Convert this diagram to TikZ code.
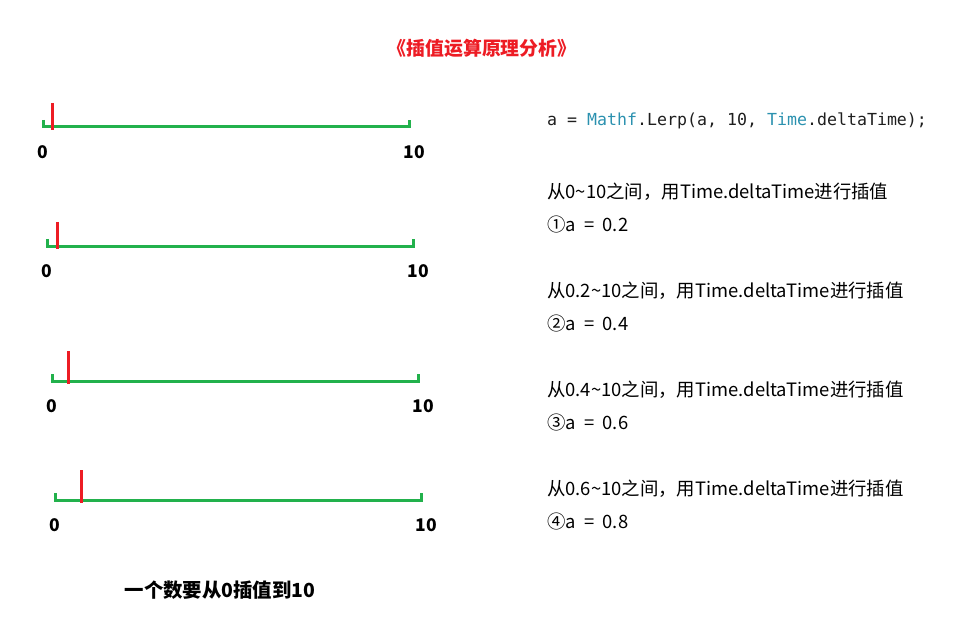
\documentclass[tikz,border=0pt]{standalone}
\usepackage{fontspec}
\setmainfont{Noto Sans CJK SC}
\setmonofont{DejaVu Sans Mono}
\usetikzlibrary{positioning}
\definecolor{axisGreen}{RGB}{34,177,76}
\definecolor{markRed}{RGB}{237,28,36}
\definecolor{codeCyan}{RGB}{43,145,175}
\definecolor{codeInk}{RGB}{30,30,30}
\tikzset{
  axisLine/.style={draw=axisGreen,line width=3pt},
  markLine/.style={draw=markRed,line width=3pt},
  numLbl/.style={font=\fontsize{17.5}{20}\selectfont\bfseries,inner sep=0pt},
  noteTxt/.style={anchor=west,inner sep=0pt,font=\fontsize{18.4}{22}\selectfont},
}

\begin{document}
\begin{tikzpicture}[x=1pt,y=-1pt]
  \useasboundingbox (0,0) rectangle (960,620);
  \node[font=\fontsize{18.9}{22}\selectfont\bfseries,text=markRed](title) at (482,48){《插值运算原理分析》};
  % number lines
  \foreach \i/\xl/\yy/\xm/\ym in {1/43/127/52/103,2/47/246/57/222,3/52/381/68/351,4/55/500/81/470}{
    \coordinate (axL\i) at (\xl,\yy);
    \coordinate (axR\i) at (\xl+366,\yy);
    \coordinate (mkT\i) at (\xm,\ym);
    \coordinate (mkB\i) at (\xm,\yy+3);
    \draw[axisLine] ([yshift=7pt]axL\i) -- (axL\i) -- (axR\i) -- ([yshift=7pt]axR\i);
    \draw[markLine] (mkT\i) -- (mkB\i);
    \node[numLbl](zero\i) at (\xl,\yy+25){0};
    \node[numLbl](ten\i) at (\xl+371,\yy+25){10};
  }
  \node[font=\fontsize{19.4}{22}\selectfont\bfseries](caption) at (220,590){一个数要从0插值到10};
  % right column
  \node[noteTxt,font=\ttfamily\fontsize{16.6}{19}\selectfont,text=codeInk](code) at (547,121)
    {a = \textcolor{codeCyan}{Mathf}.Lerp(a, 10, \textcolor{codeCyan}{Time}.deltaTime);};
  \foreach \i/\yy/\from/\step/\val in {1/192/0/①/0.2,2/291/0.2/②/0.4,3/390/0.4/③/0.6,4/489/0.6/④/0.8}{
    \node[noteTxt](range\i) at (547,\yy){从\from\textasciitilde 10之间，用Time.deltaTime进行插值};
    \node[noteTxt](value\i) at (547,\yy+33){\step a\hspace{0.45em}=\hspace{0.45em}\val};
  }
\end{tikzpicture}
\end{document}
